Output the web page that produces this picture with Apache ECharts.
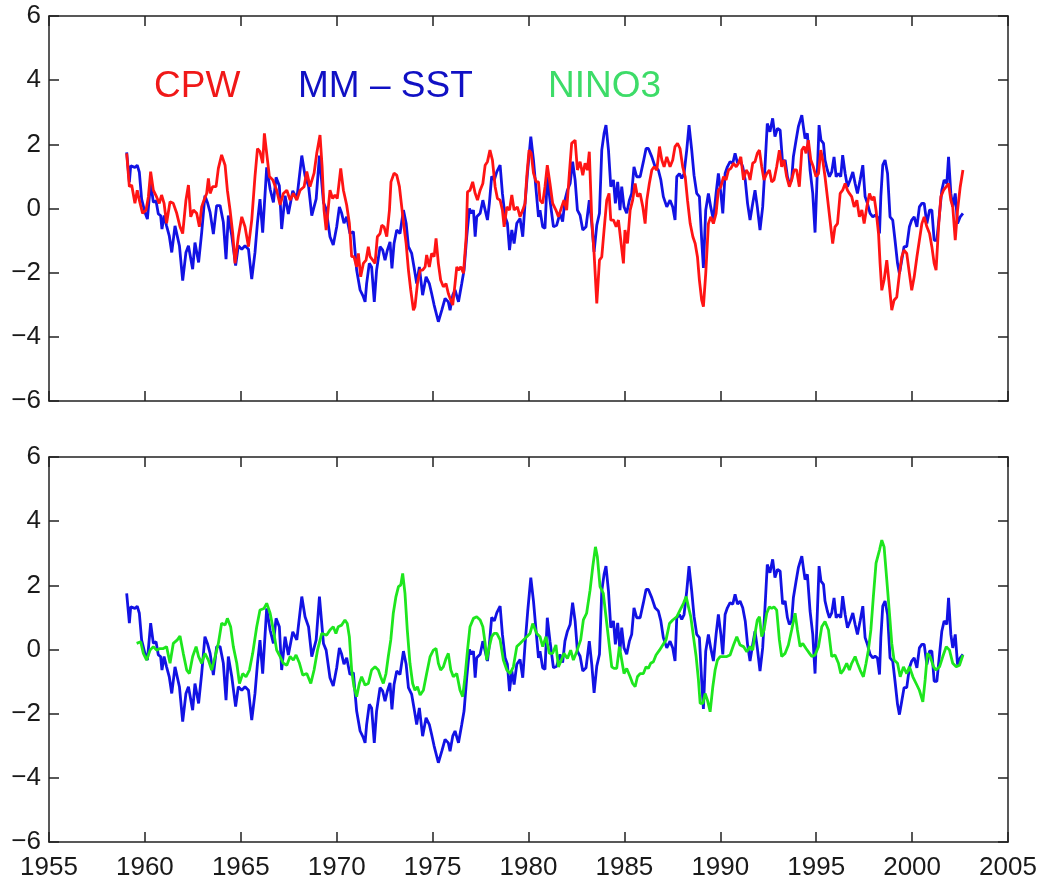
<!DOCTYPE html>
<html>
<head>
<meta charset="utf-8">
<title>CPW, MM-SST, NINO3</title>
<script src="https://cdn.jsdelivr.net/npm/echarts@6/dist/echarts.min.js"></script>
<style>
  html, body { margin: 0; padding: 0; background: #fff; }
  #main { width: 1040px; height: 881px; }
</style>
</head>
<body>
<div id="main"></div>
<script>
// [year, anomaly]
const mmSst = [
  [1959.05,1.75],[1959.19,0.82],[1959.26,1.33],[1959.48,1.28],[1959.60,1.35],[1959.71,1.13],[1959.83,0.29],[1960.00,-0.12],[1960.13,-0.33],[1960.30,0.82],[1960.44,0.19],[1960.58,0.24],[1960.70,-0.17],[1960.82,-0.22],[1960.89,-0.64],[1961.00,-0.22],[1961.13,-0.54],[1961.27,-0.85],[1961.40,-1.37],[1961.57,-0.54],[1961.80,-1.16],[1961.97,-2.25],[1962.14,-1.37],[1962.27,-1.16],[1962.49,-1.89],[1962.61,-1.06],[1962.80,-1.68],[1962.96,-0.75],[1963.13,0.40],[1963.26,0.19],[1963.40,-0.12],[1963.57,-0.80],[1963.74,0.09],[1963.92,0.09],[1964.09,-0.43],[1964.23,-1.58],[1964.35,-0.22],[1964.53,-0.85],[1964.73,-1.78],[1964.87,-1.16],[1965.05,-1.27],[1965.22,-1.16],[1965.40,-1.27],[1965.57,-2.20],[1965.74,-1.37],[1965.87,-0.43],[1966.00,0.29],[1966.14,-0.75],[1966.35,1.28],[1966.53,0.60],[1966.70,0.19],[1966.84,0.97],[1967.01,0.71],[1967.13,-0.64],[1967.31,0.40],[1967.48,-0.17],[1967.71,0.55],[1967.92,0.30],[1968.18,1.65],[1968.35,1.02],[1968.53,0.71],[1968.70,-0.22],[1968.93,0.30],[1969.10,1.65],[1969.31,0.19],[1969.45,-0.02],
  [1969.65,-0.88],[1969.82,-1.14],[1970.00,-0.57],[1970.14,0.05],[1970.26,-0.15],[1970.38,-0.46],[1970.52,-0.26],[1970.69,-0.78],[1970.87,-0.72],[1970.95,-1.30],[1971.04,-1.92],[1971.22,-2.54],[1971.39,-2.75],[1971.48,-2.91],[1971.56,-2.34],[1971.70,-1.71],[1971.82,-1.82],[1971.96,-2.91],[1972.08,-1.92],[1972.26,-1.19],[1972.40,-1.30],[1972.52,-1.61],[1972.64,-1.30],[1972.78,-1.04],[1972.88,-1.87],[1972.99,-1.09],[1973.13,-0.67],[1973.30,-0.78],[1973.48,-0.05],[1973.62,-0.46],[1973.74,-1.19],[1973.91,-1.40],[1974.03,-1.82],[1974.17,-2.34],[1974.31,-1.82],[1974.48,-2.70],[1974.66,-2.13],[1974.83,-2.34],[1974.95,-2.65],[1975.08,-3.01],[1975.18,-2.96],[1975.30,-3.53],[1975.48,-3.17],[1975.65,-2.80],[1975.82,-2.91],[1975.91,-3.17],[1976.05,-2.70],[1976.17,-2.54],[1976.35,-2.91],[1976.52,-2.34],[1976.64,-1.92],[1976.78,-0.88],[1976.92,0.00],[1977.04,-0.15],[1977.13,-0.05],[1977.22,-0.88],[1977.30,-0.26],[1977.48,-0.15],[1977.62,0.26],[1977.74,-0.05],[1977.86,-0.36],[1977.96,0.16],[1978.08,1.00],[1978.22,0.89],[1978.35,1.15],[1978.52,1.35],[1978.64,0.47],[1978.78,-0.26],[1978.90,-0.46],[1979.01,-1.30],[1979.13,-0.67],[1979.25,-1.09],[1979.39,-0.46],[1979.56,-0.31],[1979.70,-0.88],[1979.82,0.16],[1979.96,1.20],[1980.12,2.24],[1980.26,1.51],[1980.38,0.68],[1980.52,-0.26],
  [1980.60,-0.05],[1980.74,-0.57],[1980.86,-0.62],[1980.98,0.99],[1981.12,0.26],[1981.30,-0.57],[1981.47,-0.52],[1981.64,-0.15],[1981.78,-0.41],[1981.90,0.26],[1982.03,0.57],[1982.17,0.78],[1982.30,1.46],[1982.43,0.89],[1982.55,-0.05],[1982.69,-0.21],[1982.83,-0.67],[1983.00,-0.57],[1983.17,0.26],[1983.30,-0.47],[1983.42,-1.35],[1983.56,-0.52],[1983.70,-0.15],[1983.82,1.82],[1983.94,2.34],[1984.04,2.60],[1984.17,1.82],[1984.29,0.68],[1984.43,0.89],[1984.53,0.16],[1984.65,0.83],[1984.77,-0.05],[1984.86,0.68],[1984.98,0.05],[1985.12,-0.15],[1985.26,0.26],[1985.38,0.47],[1985.50,1.30],[1985.64,0.99],[1985.82,0.99],[1985.99,1.46],[1986.13,1.87],[1986.25,1.87],[1986.43,1.61],[1986.60,1.30],[1986.77,1.20],[1986.90,0.89],[1987.03,0.37],[1987.21,0.05],[1987.38,0.26],[1987.52,0.05],[1987.64,-0.36],[1987.73,0.99],[1987.87,1.09],[1987.99,0.94],[1988.11,1.09],[1988.25,1.82],[1988.37,2.60],[1988.51,1.82],[1988.63,1.04],[1988.77,0.47],[1988.91,0.37],[1989.03,-0.99],[1989.12,-1.85],[1989.24,-0.05],[1989.38,0.47],[1989.50,0.05],[1989.64,-0.36],[1989.78,0.47],[1989.90,1.09],[1990.03,0.47],[1990.13,-0.15],[1990.25,1.09],[1990.37,1.30],[1990.51,1.46],[1990.65,1.41],[1990.77,1.72],[1990.90,1.41],[1991.03,1.51],[1991.17,1.30],[1991.30,0.89],[1991.42,0.16],
  [1991.55,-0.36],[1991.69,0.16],[1991.81,0.57],[1991.93,0.05],[1992.07,-0.67],[1992.21,0.05],[1992.33,1.30],[1992.45,2.65],[1992.59,2.39],[1992.73,2.81],[1992.85,2.24],[1992.98,2.50],[1993.12,2.44],[1993.25,1.41],[1993.38,1.51],[1993.50,0.99],[1993.60,0.78],[1993.72,0.89],[1993.81,1.61],[1993.95,2.13],[1994.07,2.55],[1994.16,2.50],[1994.25,2.91],[1994.33,2.55],[1994.42,2.18],[1994.54,2.34],[1994.68,1.20],[1994.82,0.47],[1994.94,-0.75],[1995.03,0.68],[1995.15,2.60],[1995.25,2.13],[1995.38,2.03],[1995.46,1.51],[1995.58,1.20],[1995.69,0.99],[1995.81,1.14],[1995.93,1.61],[1996.04,0.99],[1996.16,1.09],[1996.28,0.99],[1996.38,1.66],[1996.51,1.09],[1996.63,0.68],[1996.77,0.89],[1996.91,1.14],[1997.03,0.78],[1997.15,0.47],[1997.29,0.89],[1997.43,1.35],[1997.55,0.37],[1997.67,0.16],[1997.81,-0.15],[1997.95,-0.26],[1998.07,-0.21],[1998.19,-0.26],[1998.30,-0.78],[1998.37,0.37],[1998.47,1.35],[1998.59,1.51],[1998.72,1.09],[1998.85,-0.26],[1998.99,-0.36],[1999.11,-0.99],[1999.24,-1.71],[1999.34,-2.03],[1999.46,-1.61],[1999.58,-1.19],[1999.72,-1.19],[1999.86,-0.57],[1999.98,-0.36],[2000.11,-0.26],[2000.25,-0.57],[2000.38,0.05],[2000.51,0.16],[2000.63,0.16],[2000.77,-0.47],[2000.91,-0.05],[2001.03,-0.05],[2001.15,-0.99],[2001.29,-0.99],[2001.43,-0.15],[2001.55,0.57],[2001.67,0.89],[2001.81,0.78],[2001.90,1.61],[2002.02,0.47],[2002.12,0.05],[2002.25,0.47],[2002.37,-0.47],[2002.51,-0.26],[2002.65,-0.15]
];

const cpw = [
  [1959.05,1.72],[1959.19,0.68],[1959.31,0.73],[1959.48,0.16],[1959.60,0.57],[1959.71,0.26],[1959.88,-0.15],[1960.06,-0.05],[1960.18,0.36],[1960.30,1.15],[1960.44,0.57],[1960.61,0.36],[1960.75,0.16],[1960.87,0.42],[1961.00,0.16],[1961.13,-0.46],[1961.31,0.21],[1961.48,0.16],[1961.66,-0.15],[1961.83,-0.57],[1961.97,-0.78],[1962.14,0.26],[1962.27,0.73],[1962.39,-0.26],[1962.53,-0.05],[1962.70,-0.15],[1962.84,-0.57],[1962.96,0.05],[1963.08,0.26],[1963.22,0.47],[1963.31,0.94],[1963.40,0.47],[1963.53,0.68],[1963.71,0.68],[1963.83,1.25],[1964.00,1.67],[1964.18,1.35],[1964.30,0.57],[1964.44,-0.05],[1964.58,-0.78],[1964.70,-1.71],[1964.87,-0.88],[1965.05,-0.26],[1965.22,-0.57],[1965.40,-1.19],[1965.57,-0.36],[1965.74,1.00],[1965.87,1.87],[1966.00,1.77],[1966.14,1.41],[1966.23,2.34],[1966.35,1.72],[1966.49,1.00],[1966.67,0.89],[1966.87,0.57],[1967.05,0.11],[1967.22,0.47],[1967.40,0.57],[1967.57,0.26],[1967.74,0.47],[1967.92,0.26],[1968.09,0.57],[1968.30,0.68],[1968.44,1.15],[1968.61,0.68],[1968.82,1.10],[1968.96,1.72],[1969.13,2.29],[1969.24,1.30],[1969.34,-0.05],[1969.45,-0.67],
  [1969.65,0.57],[1969.79,0.31],[1969.91,0.42],[1970.03,0.31],[1970.21,1.25],[1970.35,0.57],[1970.52,0.11],[1970.66,-0.46],[1970.78,-1.50],[1970.90,-1.50],[1971.04,-1.82],[1971.13,-1.40],[1971.25,-2.13],[1971.39,-1.71],[1971.53,-1.61],[1971.65,-1.19],[1971.74,-1.50],[1971.88,-1.61],[1972.00,-1.71],[1972.12,-0.88],[1972.26,-0.78],[1972.35,-0.52],[1972.47,-0.57],[1972.61,-0.88],[1972.75,-0.05],[1972.83,0.83],[1972.99,1.10],[1973.13,1.04],[1973.27,0.68],[1973.39,0.05],[1973.51,-0.57],[1973.62,-1.09],[1973.74,-1.92],[1973.86,-2.54],[1974.00,-3.17],[1974.08,-3.06],[1974.21,-2.34],[1974.35,-1.92],[1974.48,-1.92],[1974.61,-1.82],[1974.69,-1.45],[1974.83,-1.82],[1974.95,-1.40],[1975.08,-1.50],[1975.18,-0.93],[1975.30,-1.71],[1975.42,-2.23],[1975.56,-2.44],[1975.70,-2.34],[1975.82,-2.65],[1975.95,-2.86],[1976.05,-3.01],[1976.17,-2.34],[1976.26,-1.82],[1976.35,-1.92],[1976.47,-1.82],[1976.61,-2.02],[1976.75,-0.88],[1976.82,0.52],[1976.95,0.57],[1977.09,0.83],[1977.22,0.47],[1977.34,0.26],[1977.48,0.57],[1977.62,0.78],[1977.74,1.35],[1977.86,1.46],[1977.99,1.82],[1978.12,1.51],[1978.26,0.68],[1978.38,0.31],[1978.52,0.26],[1978.64,-0.05],[1978.73,-0.57],[1978.87,0.05],[1979.01,-0.05],[1979.13,0.42],[1979.25,-0.05],[1979.42,0.05],[1979.56,-0.26],[1979.70,-0.05],[1979.82,0.16],[1979.91,1.00],[1980.03,1.82],[1980.14,1.72],[1980.26,1.10],[1980.40,0.83],[1980.52,0.83],
  [1980.60,0.26],[1980.74,0.16],[1980.86,0.68],[1980.98,1.35],[1981.12,0.78],[1981.26,0.16],[1981.43,-0.05],[1981.56,-0.26],[1981.73,0.05],[1981.85,0.26],[1981.99,-0.05],[1982.13,1.09],[1982.25,2.03],[1982.43,2.13],[1982.55,1.20],[1982.69,1.46],[1982.83,1.04],[1982.95,1.41],[1983.07,1.20],[1983.17,1.77],[1983.30,-0.36],[1983.42,-1.40],[1983.56,-2.96],[1983.70,-1.61],[1983.82,-1.51],[1983.94,-0.67],[1984.08,0.26],[1984.20,0.47],[1984.29,-0.36],[1984.43,-0.36],[1984.57,-0.57],[1984.69,-0.36],[1984.81,-0.99],[1984.95,-1.71],[1985.03,-0.67],[1985.16,-1.09],[1985.30,-0.05],[1985.43,0.26],[1985.56,0.78],[1985.68,0.37],[1985.82,0.47],[1985.96,0.05],[1986.08,-0.47],[1986.17,0.26],[1986.30,0.78],[1986.43,1.20],[1986.55,1.30],[1986.69,1.20],[1986.83,1.93],[1986.95,1.51],[1987.07,1.30],[1987.21,1.61],[1987.38,1.30],[1987.52,1.51],[1987.64,1.93],[1987.77,2.03],[1987.90,1.87],[1988.04,1.30],[1988.17,0.99],[1988.29,0.26],[1988.43,-0.47],[1988.57,-0.88],[1988.69,-1.09],[1988.81,-1.51],[1988.91,-2.23],[1989.03,-2.86],[1989.12,-3.06],[1989.24,-2.03],[1989.38,-0.47],[1989.50,-0.26],[1989.64,-0.47],[1989.78,-0.15],[1989.90,0.57],[1990.03,0.68],[1990.17,0.99],[1990.30,0.89],[1990.43,1.20],[1990.55,1.25],[1990.69,1.41],[1990.83,1.30],[1990.95,1.41],[1991.07,1.61],[1991.21,0.89],[1991.35,1.20],[1991.47,1.09],
  [1991.55,0.89],[1991.69,1.41],[1991.81,1.46],[1991.93,1.72],[1992.04,1.82],[1992.16,1.30],[1992.28,0.89],[1992.42,1.09],[1992.56,1.20],[1992.68,0.83],[1992.80,0.89],[1992.94,1.30],[1993.08,1.82],[1993.20,1.30],[1993.32,1.51],[1993.46,0.99],[1993.60,0.68],[1993.72,0.89],[1993.85,1.20],[1993.98,1.20],[1994.12,0.68],[1994.25,1.82],[1994.37,1.93],[1994.47,1.72],[1994.59,2.13],[1994.72,1.51],[1994.85,1.30],[1994.99,0.99],[1995.12,1.09],[1995.24,1.82],[1995.34,1.51],[1995.46,0.99],[1995.58,0.37],[1995.72,-0.36],[1995.86,-1.09],[1995.98,-0.57],[1996.11,-0.47],[1996.25,0.47],[1996.38,0.57],[1996.51,0.78],[1996.63,0.57],[1996.73,0.47],[1996.85,0.37],[1996.98,0.05],[1997.12,0.26],[1997.25,-0.26],[1997.38,-0.05],[1997.50,-0.47],[1997.64,0.05],[1997.78,0.47],[1997.90,0.26],[1998.02,0.37],[1998.12,-0.05],[1998.25,-0.78],[1998.33,-1.71],[1998.42,-2.55],[1998.54,-2.23],[1998.68,-1.61],[1998.82,-2.44],[1998.94,-3.17],[1999.06,-2.86],[1999.20,-2.76],[1999.34,-2.03],[1999.46,-1.51],[1999.58,-1.30],[1999.72,-1.40],[1999.86,-2.03],[1999.98,-2.55],[2000.11,-2.13],[2000.25,-1.51],[2000.38,-0.99],[2000.51,-0.47],[2000.63,-0.26],[2000.77,-0.57],[2000.91,-0.78],[2001.03,-1.19],[2001.15,-1.71],[2001.25,-1.92],[2001.38,-0.57],[2001.50,0.37],[2001.64,0.57],[2001.78,0.68],[2001.90,0.78],[2002.02,0.26],[2002.12,0.05],[2002.25,-0.99],[2002.37,-0.05],[2002.51,0.68],[2002.65,1.20]
];

const nino3 = [
  [1959.57,0.19],[1959.78,0.24],[1959.92,-0.12],[1960.09,-0.33],[1960.27,-0.02],[1960.44,0.09],[1960.61,-0.02],[1960.79,0.03],[1960.96,0.03],[1961.13,0.09],[1961.31,-0.43],[1961.48,0.19],[1961.69,0.30],[1961.83,0.42],[1962.00,-0.12],[1962.18,-0.64],[1962.32,-0.75],[1962.49,-0.22],[1962.67,0.09],[1962.80,-0.22],[1962.96,-0.43],[1963.13,-0.12],[1963.31,-0.33],[1963.48,-0.64],[1963.66,-0.22],[1963.83,0.19],[1964.00,0.82],[1964.18,0.76],[1964.30,0.97],[1964.47,0.71],[1964.61,0.09],[1964.79,-0.43],[1964.93,-1.06],[1965.10,-0.75],[1965.27,-0.85],[1965.45,-0.64],[1965.62,-0.12],[1965.83,0.71],[1966.00,1.23],[1966.21,1.28],[1966.35,1.44],[1966.53,1.13],[1966.70,0.60],[1966.87,-0.02],[1967.05,-0.22],[1967.22,-0.43],[1967.40,-0.49],[1967.57,-0.22],[1967.74,-0.33],[1967.88,-0.17],[1968.06,-0.43],[1968.23,-0.80],[1968.44,-0.75],[1968.65,-1.06],[1968.82,-0.64],[1969.00,-0.02],[1969.22,0.50],[1969.48,0.45],
  [1969.65,0.61],[1969.82,0.71],[1969.96,0.50],[1970.08,0.71],[1970.26,0.76],[1970.43,0.92],[1970.55,0.81],[1970.66,0.40],[1970.78,-0.64],[1970.90,-1.16],[1971.04,-1.47],[1971.18,-1.06],[1971.30,-0.85],[1971.48,-1.11],[1971.65,-1.06],[1971.82,-0.64],[1972.00,-0.54],[1972.17,-0.64],[1972.29,-0.85],[1972.43,-1.06],[1972.57,-0.75],[1972.69,-0.22],[1972.82,0.30],[1972.95,1.13],[1973.09,1.65],[1973.22,1.96],[1973.34,2.01],[1973.44,2.37],[1973.56,1.75],[1973.68,0.61],[1973.82,-0.43],[1973.96,-1.06],[1974.08,-1.27],[1974.21,-1.16],[1974.35,-1.42],[1974.52,-1.27],[1974.69,-0.75],[1974.87,-0.22],[1975.04,-0.02],[1975.18,0.03],[1975.30,-0.43],[1975.42,-0.64],[1975.56,-0.54],[1975.70,-0.28],[1975.82,-0.12],[1975.95,-0.64],[1976.08,-0.85],[1976.26,-0.75],[1976.43,-1.27],[1976.57,-1.47],[1976.69,-0.85],[1976.82,-0.02],[1976.95,0.71],[1977.13,0.97],[1977.30,1.02],[1977.48,0.92],[1977.62,0.71],[1977.74,0.19],[1977.82,-0.33],[1977.96,0.09],[1978.08,0.40],[1978.21,0.50],[1978.35,0.50],[1978.52,0.30],[1978.69,-0.33],[1978.87,-0.64],[1979.04,-0.75],[1979.21,-0.54],[1979.39,0.09],[1979.56,0.19],[1979.74,0.30],[1979.91,0.40],[1980.08,0.50],[1980.22,0.81],[1980.43,0.50],
  [1980.60,0.40],[1980.74,0.09],[1980.91,0.40],[1981.09,-0.12],[1981.26,-0.12],[1981.43,0.14],[1981.56,-0.54],[1981.68,-0.38],[1981.85,-0.12],[1982.03,-0.28],[1982.20,-0.02],[1982.34,-0.33],[1982.48,-0.12],[1982.60,0.09],[1982.72,0.30],[1982.86,0.92],[1983.03,1.13],[1983.21,1.85],[1983.35,2.58],[1983.49,3.20],[1983.59,2.89],[1983.73,1.96],[1983.90,1.75],[1984.04,1.02],[1984.22,0.09],[1984.34,-0.54],[1984.46,-0.59],[1984.60,-0.59],[1984.74,0.09],[1984.86,-0.33],[1984.98,-0.75],[1985.12,-0.59],[1985.30,-0.85],[1985.43,-1.06],[1985.56,-1.16],[1985.68,-0.85],[1985.82,-0.75],[1985.99,-0.75],[1986.13,-0.54],[1986.25,-0.59],[1986.37,-0.43],[1986.51,-0.38],[1986.65,-0.17],[1986.83,-0.02],[1987.00,0.14],[1987.17,0.30],[1987.35,0.81],[1987.52,0.92],[1987.73,1.02],[1987.90,1.23],[1988.08,1.44],[1988.22,1.65],[1988.34,1.33],[1988.46,1.02],[1988.60,0.40],[1988.74,-0.22],[1988.86,-0.95],[1988.95,-1.68],[1989.09,-1.68],[1989.21,-1.37],[1989.33,-1.58],[1989.47,-1.94],[1989.61,-1.16],[1989.73,-0.64],[1989.85,-0.33],[1989.99,-0.22],[1990.17,-0.22],[1990.34,-0.22],[1990.51,-0.17],[1990.69,0.14],[1990.86,0.40],[1991.03,0.14],[1991.21,0.09],[1991.38,-0.07],
  [1991.55,0.09],[1991.69,-0.02],[1991.81,0.50],[1991.93,0.92],[1992.04,1.02],[1992.16,0.40],[1992.28,0.61],[1992.42,1.13],[1992.56,1.33],[1992.68,1.28],[1992.80,1.33],[1992.94,1.23],[1993.08,0.30],[1993.20,-0.22],[1993.38,-0.12],[1993.55,0.14],[1993.72,0.61],[1993.90,1.13],[1994.02,0.61],[1994.16,0.09],[1994.30,0.19],[1994.47,0.03],[1994.65,-0.12],[1994.77,-0.22],[1994.94,-0.17],[1995.12,0.09],[1995.29,0.71],[1995.46,0.87],[1995.64,0.61],[1995.81,-0.22],[1995.98,-0.17],[1996.16,-0.43],[1996.28,-0.75],[1996.42,-0.64],[1996.59,-0.43],[1996.73,-0.64],[1996.85,-0.43],[1997.03,-0.22],[1997.15,-0.43],[1997.29,-0.64],[1997.46,-0.85],[1997.60,-0.43],[1997.72,-0.02],[1997.85,0.61],[1997.98,1.65],[1998.12,2.69],[1998.30,3.10],[1998.42,3.41],[1998.54,3.20],[1998.68,2.17],[1998.82,1.13],[1998.94,0.19],[1999.06,-0.33],[1999.24,-0.43],[1999.38,-0.85],[1999.55,-0.54],[1999.72,-0.75],[1999.86,-0.54],[2000.04,-0.85],[2000.21,-1.06],[2000.38,-1.27],[2000.56,-1.63],[2000.68,-0.95],[2000.80,-0.12],[2000.94,-0.22],[2001.12,-0.54],[2001.25,-0.64],[2001.43,-0.54],[2001.60,-0.22],[2001.78,0.09],[2001.95,-0.02],[2002.12,-0.43],[2002.30,-0.54],[2002.47,-0.49],[2002.65,-0.17]
];

const legendLabels = ["CPW", "MM \u2013 SST", "NINO3"];

const FONT = '"Liberation Sans", Arial, sans-serif';
const INK = "#1a1a1a";

// x axis: bottom one carries labels on the lower panel only, top one is a mirror
function xAxisFor(grid, pos, labels) {
  return {
    type: "value", gridIndex: grid, position: pos,
    min: 1955, max: 2005, interval: 5,
    splitLine: { show: false },
    axisLine: { show: true, onZero: false, lineStyle: { color: "#222", width: 1.5 } },
    axisTick: { show: true, inside: true, length: 10, lineStyle: { color: "#222", width: 1.5 } },
    axisLabel: {
      show: labels, margin: 13, color: INK, fontSize: 26, fontFamily: FONT,
      formatter: v => String(v)
    }
  };
}
function yAxisFor(grid, pos, labels) {
  return {
    type: "value", gridIndex: grid, position: pos,
    min: -6, max: 6, interval: 2,
    splitLine: { show: false },
    axisLine: { show: true, onZero: false, lineStyle: { color: "#222", width: 1.5 } },
    axisTick: { show: true, inside: true, length: 10, lineStyle: { color: "#222", width: 1.5 } },
    axisLabel: {
      show: labels, margin: 8, color: INK, fontSize: 26, fontFamily: FONT,
      formatter: v => String(v).replace("-", "\u2212")
    }
  };
}

function lineSeries(name, data, color, xi, yi) {
  return {
    name: name, type: "line", data: data,
    xAxisIndex: xi, yAxisIndex: yi,
    showSymbol: false, smooth: false,
    lineStyle: { color: color, width: 2.8 },
    itemStyle: { color: color }
  };
}

const chart = echarts.init(document.getElementById("main"));
chart.setOption({
  animation: false,
  backgroundColor: "#fff",
  grid: [
    { left: 49, top: 16, width: 959, height: 385 },
    { left: 49, top: 457, width: 959, height: 385 }
  ],
  xAxis: [
    xAxisFor(0, "bottom", false),
    xAxisFor(0, "top", false),
    xAxisFor(1, "bottom", true),
    xAxisFor(1, "top", false)
  ],
  yAxis: [
    yAxisFor(0, "left", true),
    yAxisFor(0, "right", false),
    yAxisFor(1, "left", true),
    yAxisFor(1, "right", false)
  ],
  series: [
    lineSeries("MM \u2013 SST", mmSst, "#1212e4", 0, 0),
    lineSeries("CPW", cpw, "#ff1414", 0, 0),
    lineSeries("MM \u2013 SST", mmSst, "#1212e4", 2, 2),
    lineSeries("NINO3", nino3, "#1ee61e", 2, 2)
  ],
  graphic: [
    { type: "text", left: 154, top: 68, style: { text: legendLabels[0], fill: "#f01818", font: "37px " + FONT } },
    { type: "text", left: 298, top: 68, style: { text: legendLabels[1], fill: "#1010c4", font: "37px " + FONT } },
    { type: "text", left: 548, top: 68, style: { text: legendLabels[2], fill: "#3ddc68", font: "37px " + FONT } }
  ]
});
</script>
</body>
</html>
